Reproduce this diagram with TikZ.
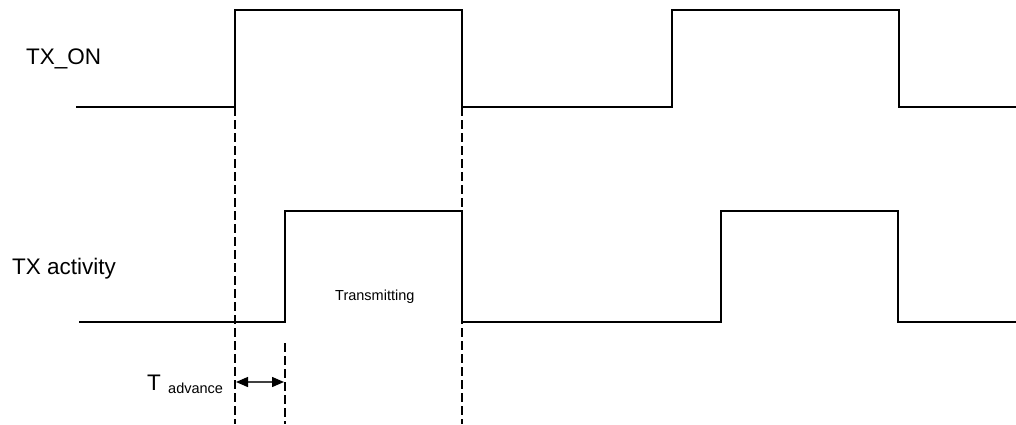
\documentclass[tikz,border=0pt]{standalone}
\usepackage{fontspec}
\setmainfont{Liberation Sans}
\usetikzlibrary{arrows.meta}
\begin{document}
\begin{tikzpicture}[x=1pt,y=-1pt,
  wave/.style={line width=2pt,line join=miter},
  guide/.style={line width=2pt,dash pattern=on 9pt off 4pt},
  dim/.style={line width=1.4pt,draw=black!75,{Triangle[length=12pt,width=10pt,fill=black,color=black]}-{Triangle[length=12pt,width=10pt,fill=black,color=black]}},
  lbl/.style={font=\fontsize{22.5}{27}\selectfont,inner sep=0pt},
  small/.style={font=\fontsize{14.5}{17}\selectfont,inner sep=0pt}]
\useasboundingbox (0,0) rectangle (1016,424);
% TX_ON waveform
\coordinate (a0) at (76,107);
\coordinate (a1) at (235,107);
\coordinate (a2) at (235,10);
\coordinate (a3) at (462,10);
\coordinate (a4) at (462,107);
\coordinate (a5) at (672,107);
\coordinate (a6) at (672,10);
\coordinate (a7) at (899,10);
\coordinate (a8) at (899,107);
\coordinate (a9) at (1016,107);
\draw[wave] (a0) -- (a1) -- (a2) -- (a3) -- (a4) -- (a5) -- (a6) -- (a7) -- (a8) -- (a9);
% TX activity waveform
\coordinate (b0) at (79,322);
\coordinate (b1) at (285,322);
\coordinate (b2) at (285,211);
\coordinate (b3) at (462,211);
\coordinate (b4) at (462,322);
\coordinate (b5) at (721,322);
\coordinate (b6) at (721,211);
\coordinate (b7) at (898,211);
\coordinate (b8) at (898,322);
\coordinate (b9) at (1016,322);
\draw[wave] (b0) -- (b1) -- (b2) -- (b3) -- (b4) -- (b5) -- (b6) -- (b7) -- (b8) -- (b9);
% dashed guides
\coordinate (g1) at (235,424);
\coordinate (g2) at (462,424);
\coordinate (g3t) at (285,343);
\coordinate (g3) at (285,424);
\draw[guide] (a1) -- (g1);
\draw[guide] (a4) -- (g2);
\draw[guide] (g3t) -- (g3);
% dimension arrow
\coordinate (d1) at (236,382);
\coordinate (d2) at (284,382);
\draw[dim] (d1) -- (d2);
% labels
\node[lbl,anchor=base west] (ton) at (26,64) {TX\_ON};
\node[lbl,anchor=base west] (tact) at (12,274) {TX activity};
\node[small,anchor=base west] (trans) at (335,300) {Transmitting};
\node[lbl,anchor=base west] (tadv) at (147,390) {T};
\node[small,anchor=base west] (adv) at (168,393) {advance};
\end{tikzpicture}
\end{document}
